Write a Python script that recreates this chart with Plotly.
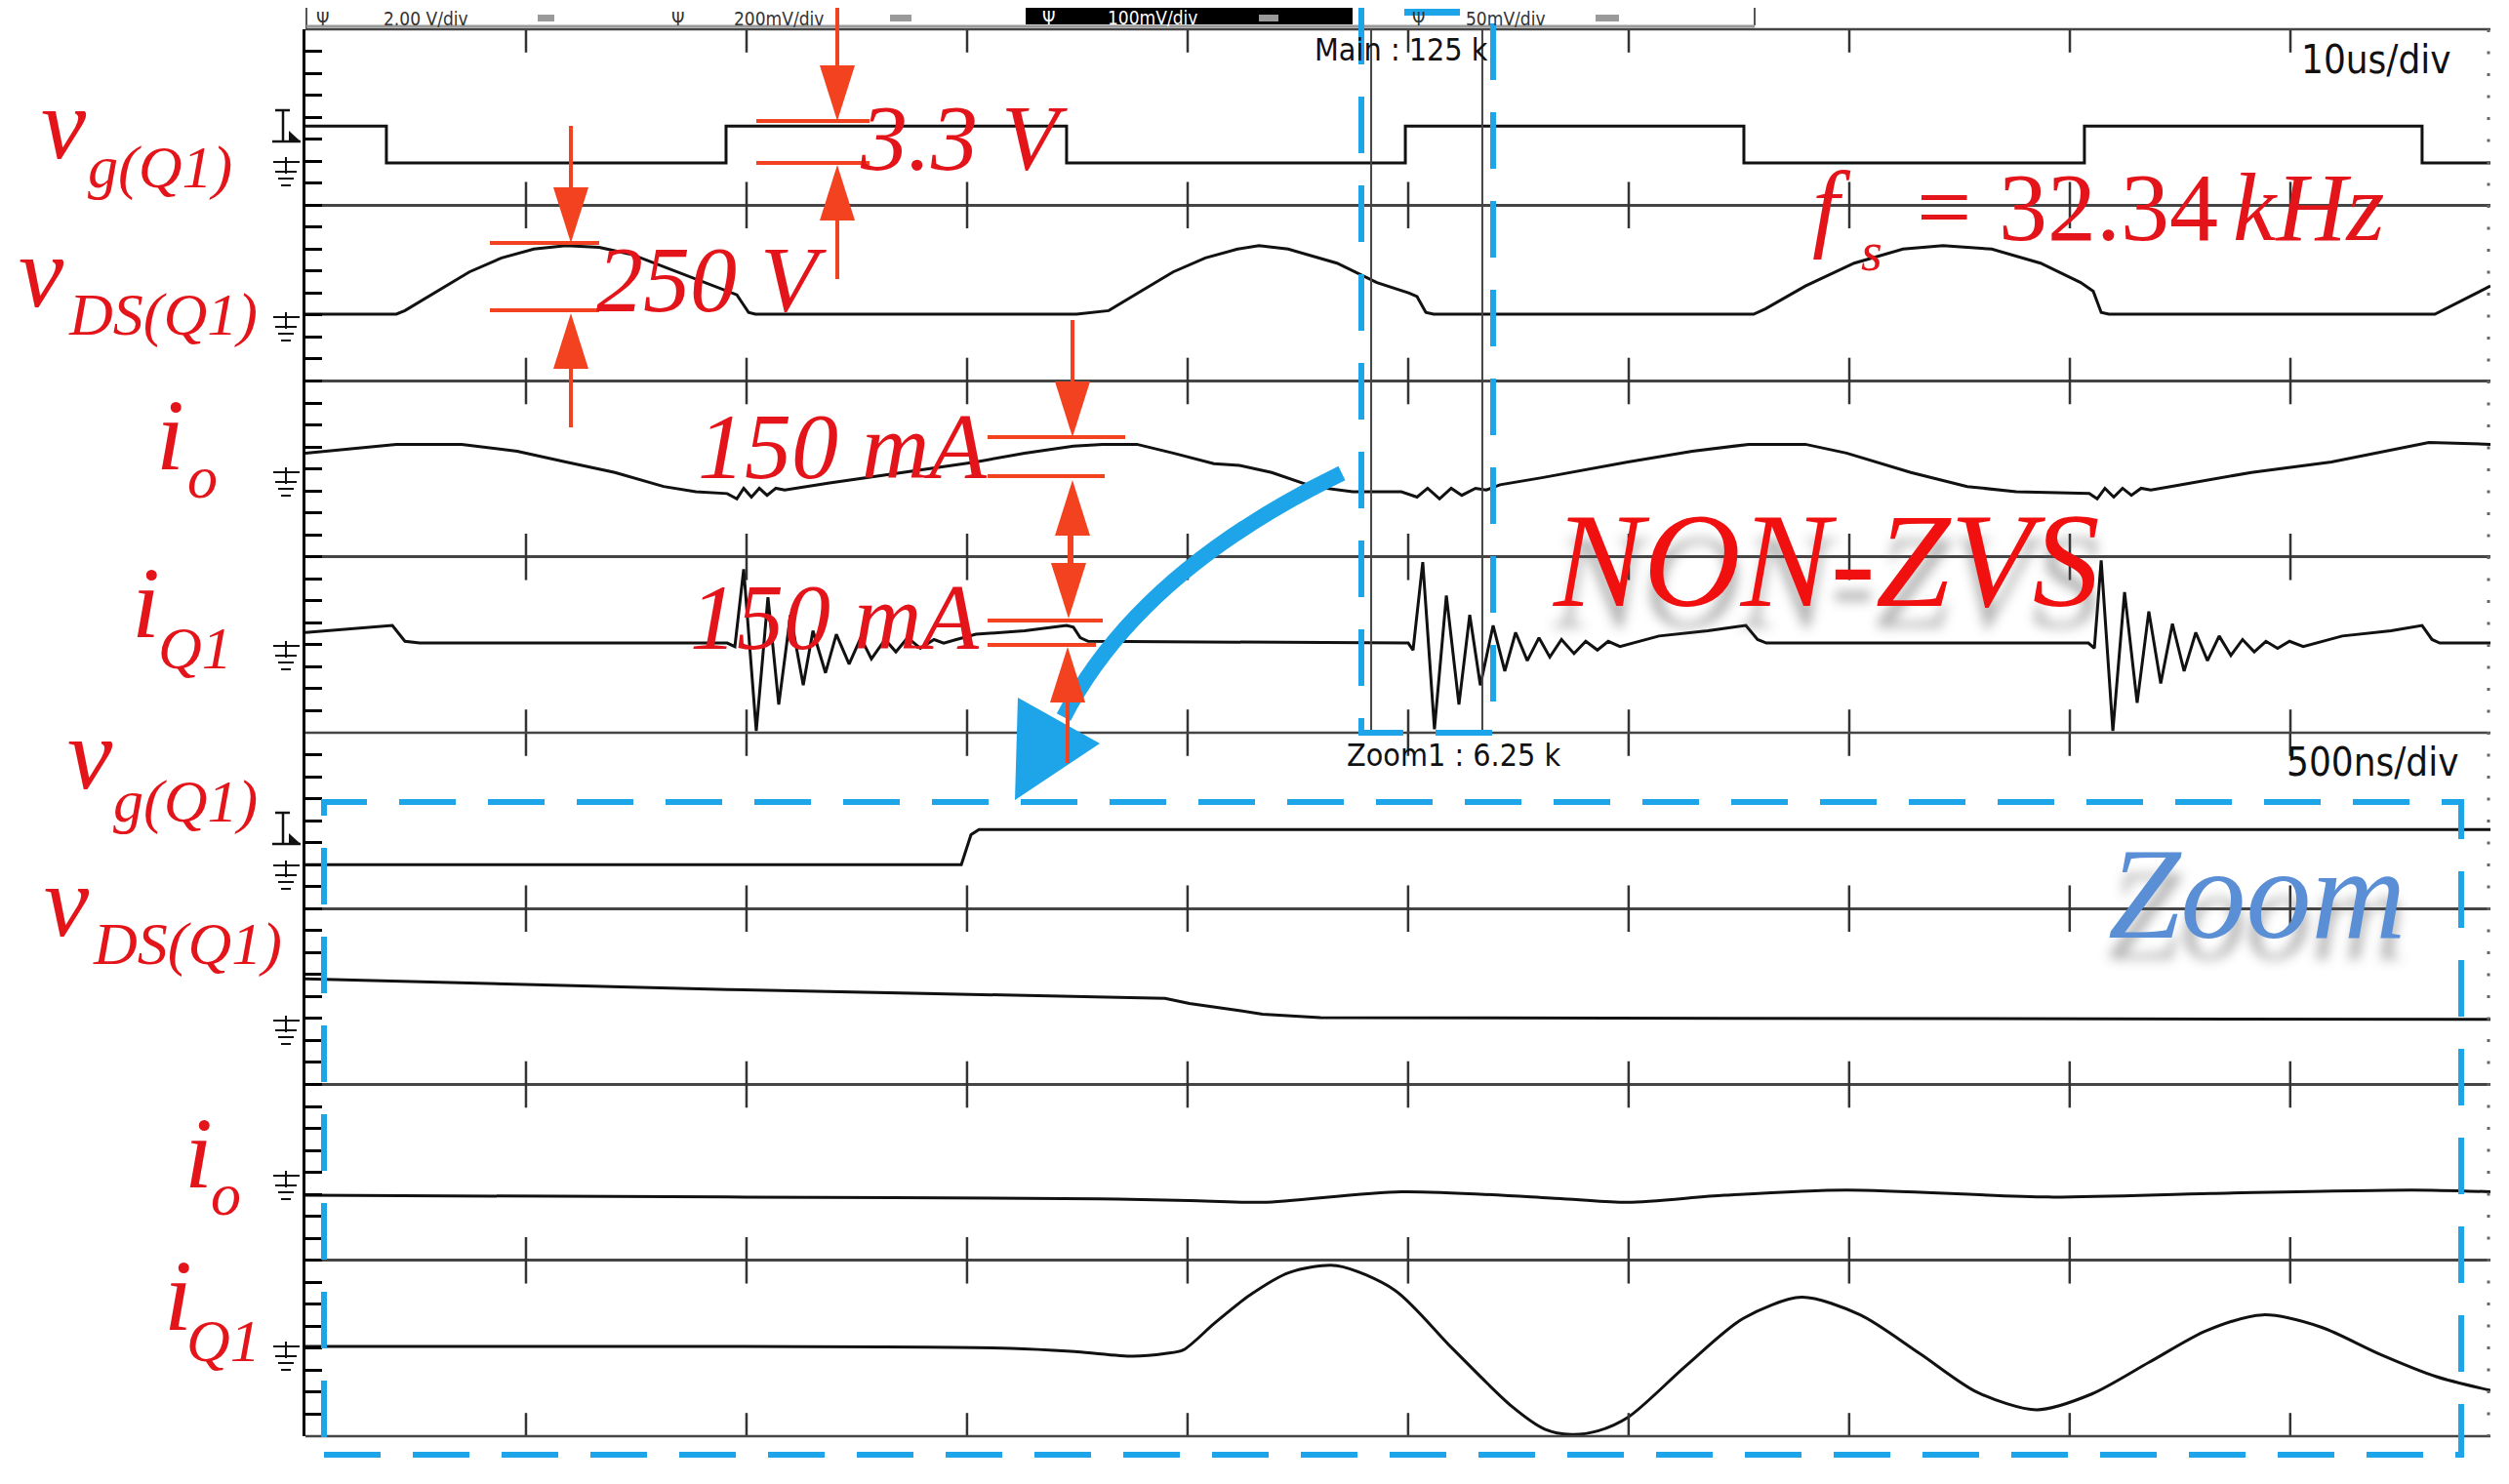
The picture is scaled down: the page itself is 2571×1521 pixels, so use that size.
import plotly.graph_objects as go

# ---------------- data ----------------
# main window: time in us (10 us/div), level in screen divisions (0..4 per half)
t_vg = [0, 3.67, 3.67, 19.07, 19.07, 34.51, 34.51, 49.87, 49.87, 65.22, 65.22, 80.66, 80.66, 95.97, 95.97, 99.07]
vg = [3.45, 3.45, 3.24, 3.24, 3.45, 3.45, 3.24, 3.24, 3.45, 3.45, 3.24, 3.24, 3.45, 3.45, 3.24, 3.24]

t_vds = [0, 4.12, 4.51, 5.97, 7.43, 8.89, 10.35, 11.81, 13.32, 14.78, 16.24, 17.70, 19.16, 19.56, 20.09, 20.40,
         34.96, 36.42, 37.88, 39.34, 40.80, 42.26, 43.23, 44.56, 46.77, 48.58, 50.04, 50.40, 50.80, 51.15,
         65.66, 66.19, 68.01, 70.22, 72.43, 74.25, 76.46, 78.67, 80.49, 81.06, 81.42, 81.77, 96.55, 99.07]
vds = [2.38, 2.38, 2.40, 2.51, 2.62, 2.70, 2.75, 2.77, 2.76, 2.72, 2.65, 2.58, 2.51, 2.49, 2.39, 2.38,
       2.38, 2.40, 2.51, 2.62, 2.70, 2.75, 2.77, 2.75, 2.67, 2.56, 2.50, 2.48, 2.39, 2.38,
       2.38, 2.41, 2.54, 2.67, 2.75, 2.77, 2.75, 2.67, 2.56, 2.51, 2.39, 2.38, 2.38, 2.54]

t_io = [0, 1.64, 4.12, 7.08, 9.60, 11.81, 14.03, 16.24, 17.70, 19.12, 19.56, 19.87, 20.22, 20.58, 20.93, 21.33,
        21.73, 23.76, 25.97, 28.19, 30.40, 32.61, 34.82, 36.15, 37.70, 39.34, 41.19, 42.35, 43.81, 45.66,
        47.48, 49.69, 50.40, 50.88, 51.42, 51.95, 52.43, 53.05, 53.54, 54.16, 56.06, 59.96, 62.88, 65.44,
        68.01, 69.87, 72.79, 75.35, 77.57, 80.88, 81.24, 81.59, 81.99, 82.39, 82.79, 83.23, 83.67, 84.56,
        88.23, 91.86, 95.53, 96.28, 99.07]
io = [1.59, 1.61, 1.64, 1.64, 1.60, 1.54, 1.48, 1.40, 1.37, 1.36, 1.33, 1.39, 1.34, 1.39, 1.35, 1.39,
      1.38, 1.42, 1.46, 1.50, 1.54, 1.59, 1.63, 1.64, 1.64, 1.59, 1.53, 1.52, 1.48, 1.40,
      1.37, 1.37, 1.34, 1.39, 1.33, 1.39, 1.35, 1.39, 1.38, 1.41, 1.45, 1.54, 1.60, 1.64,
      1.64, 1.59, 1.48, 1.40, 1.37, 1.36, 1.33, 1.39, 1.34, 1.39, 1.35, 1.39, 1.38, 1.40,
      1.48, 1.54, 1.63, 1.65, 1.64]

t_iq = [0, 3.94, 4.51, 5.18, 19.12, 19.47, 19.87, 20.44, 20.97, 21.46, 21.99, 22.57, 23.01, 23.58, 24.07,
        24.65, 25.18, 25.66, 26.28, 26.77, 27.30, 27.88, 28.50, 28.94, 29.51, 30.40, 32.61, 34.51, 34.82,
        35.13, 35.49, 50.00, 50.22, 50.66, 51.19, 51.73, 52.30, 52.79, 53.27, 53.85, 54.38, 54.87, 55.40,
        55.93, 56.42, 56.95, 57.52, 58.05, 58.58, 59.07, 59.60, 61.37, 63.58, 65.31, 65.84, 66.24, 80.84,
        81.11, 81.42, 81.95, 82.48, 83.05, 83.58, 84.12, 84.65, 85.18, 85.71, 86.24, 86.77, 87.30, 87.83,
        88.36, 88.89, 89.42, 89.96, 90.58, 92.35, 94.56, 95.97, 96.42, 96.77, 99.07]
iq = [0.57, 0.61, 0.52, 0.51, 0.51, 0.49, 0.93, 0.01, 0.77, 0.16, 0.67, 0.27, 0.58, 0.34, 0.56,
      0.39, 0.54, 0.42, 0.53, 0.46, 0.54, 0.48, 0.53, 0.51, 0.53, 0.56, 0.58, 0.61, 0.60,
      0.54, 0.52, 0.51, 0.47, 0.97, 0.02, 0.78, 0.16, 0.67, 0.27, 0.61, 0.35, 0.57, 0.41,
      0.54, 0.43, 0.53, 0.45, 0.52, 0.47, 0.52, 0.49, 0.55, 0.58, 0.61, 0.53, 0.51, 0.51,
      0.48, 0.98, 0.01, 0.80, 0.17, 0.69, 0.28, 0.62, 0.35, 0.57, 0.41, 0.55, 0.44, 0.53,
      0.46, 0.52, 0.48, 0.52, 0.49, 0.55, 0.58, 0.61, 0.53, 0.51, 0.51]

# zoom window: time in ns (500 ns/div)
t_vg_z = [0, 1487, 1509, 1527, 4954]
vg_z = [3.25, 3.25, 3.42, 3.45, 3.45]

t_vds_z = [0, 958, 1949, 2004, 2117, 2170, 2301, 4954]
vds_z = [2.60, 2.54, 2.49, 2.46, 2.42, 2.40, 2.38, 2.37]

t_io_z = [0, 958, 1800, 2004, 2170, 2485, 2852, 2998, 3217, 3493, 3951, 4319, 4777, 4954]
io_z = [1.37, 1.36, 1.35, 1.34, 1.33, 1.39, 1.35, 1.33, 1.37, 1.40, 1.36, 1.38, 1.40, 1.39]

t_iq_z = [0, 1600, 1750, 1876, 1950, 1990, 2060, 2140, 2230, 2338, 2470, 2600, 2735, 2810, 2870, 2930,
          3000, 3130, 3260, 3392, 3525, 3660, 3790, 3925, 4050, 4180, 4310, 4438, 4570, 4700, 4830, 4954]
iq_z = [0.51, 0.50, 0.48, 0.455, 0.47, 0.49, 0.64, 0.80, 0.93, 0.97, 0.83, 0.50, 0.17, 0.04, 0.01, 0.03,
        0.11, 0.40, 0.67, 0.79, 0.69, 0.47, 0.25, 0.15, 0.24, 0.42, 0.60, 0.69, 0.62, 0.47, 0.34, 0.26]

main_window = [48.32, 53.36]   # zoom window markers, us

# ---------------- figure geometry (screen pixels) ----------------
FW, FH = 2571, 1521
BODY = 8                       # default page margin around the plot div
L, R, T, B = 313, 2552, 30, 1472

def px(x):
    return (x - L) / (R - L)

def py(y):
    return (B - y) / (B - T)

def seg(x0, y0, x1, y1, color, width, dash=None):
    return dict(type='line', xref='paper', yref='paper', x0=px(x0), y0=py(y0), x1=px(x1), y1=py(y1),
                line=dict(color=color, width=width, dash=dash))

def poly(points, color):
    path = 'M ' + ' L '.join(f'{px(x):.5f},{py(y):.5f}' for x, y in points) + ' Z'
    return dict(type='path', xref='paper', yref='paper', path=path, fillcolor=color, line=dict(width=0))

def txt(text, x, y, size, color, family, style='normal', xanchor='left', **kw):
    return dict(text=text, x=px(x), y=py(y), xref='paper', yref='paper', xanchor=xanchor, yanchor='middle',
                showarrow=False, font=dict(size=size, color=color, family=family, style=style), **kw)

SERIF = 'Liberation Serif, DejaVu Serif, serif'
SCOPE = 'Liberation Sans Narrow, DejaVu Sans Condensed, Roboto Condensed, Liberation Sans, sans-serif'
RED = '#e3151a'
ARROW = '#f3421f'
BLUE = '#1ea5e9'
GRID = '#454545'
TRACE = '#111111'

fig = go.Figure()

line_kw = dict(mode='lines', hoverinfo='skip', showlegend=False)
for tx, yy in [(t_vg, vg), (t_vds, vds), (t_io, io), (t_iq, iq)]:
    fig.add_trace(go.Scatter(x=tx, y=yy, line=dict(color=TRACE, width=3), xaxis='x', yaxis='y', **line_kw))
for tx, yy, shp in [(t_vg_z, vg_z, 'linear'), (t_vds_z, vds_z, 'linear'),
                    (t_io_z, io_z, 'spline'), (t_iq_z, iq_z, 'spline')]:
    fig.add_trace(go.Scatter(x=tx, y=yy, line=dict(color=TRACE, width=3, shape=shp, smoothing=0.8),
                             xaxis='x2', yaxis='y2', **line_kw))

# division tick crosses on every horizontal graticule line
for xa, ya, step in [('x', 'y', 10), ('x2', 'y2', 500)]:
    xs = [step * k for k in range(1, 10) for _ in range(5)]
    ys = [j for _ in range(1, 10) for j in range(5)]
    fig.add_trace(go.Scatter(x=xs, y=ys, mode='markers', xaxis=xa, yaxis=ya, hoverinfo='skip', showlegend=False,
                             cliponaxis=True,
                             marker=dict(symbol='line-ns', size=34, line=dict(color='#333', width=2.5))))

yax = dict(range=[0, 4], showgrid=True, gridcolor=GRID, gridwidth=2.5, dtick=1, tick0=0,
           ticks='inside', ticklen=17, tickwidth=3, tickcolor='black',
           minor=dict(ticks='inside', dtick=0.125, ticklen=17, tickwidth=3, tickcolor='black', showgrid=False),
           showline=True, linewidth=3, linecolor='black', showticklabels=False, zeroline=False, fixedrange=True)
xax = dict(showgrid=False, zeroline=False, showticklabels=False, ticks='', showline=False, fixedrange=True)

shapes = []
for yy in (T, 751, B):
    shapes.append(seg(L, yy, R, yy, GRID, 2.5))
shapes.append(seg(2550, T, 2550, B, '#666', 3, dash='3px,19.5px'))
for xw in main_window:
    shapes.append(dict(type='line', xref='x', yref='y', x0=xw, x1=xw, y0=0, y1=4, line=dict(color='#444', width=2)))

# header strip of the scope
shapes.append(seg(314, 8, 314, 29, '#555', 2))
shapes.append(seg(1798, 8, 1798, 26, '#555', 2))
shapes.append(seg(314, 27, 1798, 27, '#999', 3))
shapes.append(dict(type='rect', xref='paper', yref='paper', x0=px(1051), x1=px(1386), y0=py(25), y1=py(8),
                   fillcolor='black', line=dict(width=0)))
for a, b in [(551, 568), (912, 934), (1290, 1310), (1635, 1659)]:
    shapes.append(dict(type='rect', xref='paper', yref='paper', x0=px(a), x1=px(b), y0=py(22), y1=py(15),
                       fillcolor='#9a9a9a', line=dict(width=0)))
shapes.append(dict(type='rect', xref='paper', yref='paper', x0=px(1439), x1=px(1496), y0=py(16), y1=py(9),
                   fillcolor=BLUE, line=dict(width=0)))

# ground markers and trigger markers on the left edge
for g in (166, 325, 484, 662, 887, 1046, 1205, 1380):
    shapes.append(seg(280, g, 307, g, '#111', 2))
    shapes.append(seg(293, g - 5, 293, g + 12, '#111', 2))
    shapes.append(seg(282, g + 10, 304, g + 10, '#111', 2))
    shapes.append(seg(285, g + 17, 301, g + 17, '#111', 2))
    shapes.append(seg(288, g + 24, 298, g + 24, '#111', 2))
for t0 in (113, 833):
    shapes.append(seg(282, t0, 297, t0, '#111', 2.5))
    shapes.append(seg(290, t0, 290, t0 + 32, '#111', 2.5))
    shapes.append(seg(279, t0 + 32, 308, t0 + 32, '#111', 2.5))
    shapes.append(poly([(296, t0 + 21), (308, t0 + 32), (296, t0 + 32)], '#111'))

# blue dashed boxes
DASH = '58px,33px'
shapes.append(dict(type='rect', xref='paper', yref='paper', x0=px(332), x1=px(2522), y0=py(1491), y1=py(822),
                   line=dict(color=BLUE, width=6, dash=DASH)))
box_path = (f'M {px(1395):.5f},{py(8):.5f} L {px(1395):.5f},{py(751):.5f} '
            f'L {px(1530):.5f},{py(751):.5f} L {px(1530):.5f},{py(8):.5f}')
shapes.append(dict(type='path', xref='paper', yref='paper', path=box_path, line=dict(color=BLUE, width=6, dash=DASH)))

# blue curved arrow
curve = (f'M {px(1375):.5f},{py(485):.5f} Q {px(1167):.5f},{py(586):.5f} {px(1090):.5f},{py(735):.5f}')
shapes.append(dict(type='path', xref='paper', yref='paper', path=curve, line=dict(color=BLUE, width=16)))
shapes.append(poly([(1043, 715), (1127, 762), (1040, 820)], BLUE))

# red dimension arrows
def down_head(x, tip):
    return poly([(x - 18, tip - 57), (x + 18, tip - 57), (x, tip)], ARROW)

def up_head(x, tip):
    return poly([(x - 18, tip + 57), (x + 18, tip + 57), (x, tip)], ARROW)

shapes += [seg(858, 6, 858, 70, ARROW, 4), down_head(858, 124),
           seg(775, 124, 891, 124, ARROW, 4), seg(775, 167, 891, 167, ARROW, 4),
           up_head(858, 169), seg(858, 222, 858, 286, ARROW, 4)]
shapes += [seg(585, 129, 585, 195, ARROW, 4), down_head(585, 249),
           seg(502, 249, 614, 249, ARROW, 4), seg(502, 318, 614, 318, ARROW, 4),
           up_head(585, 321), seg(585, 375, 585, 438, ARROW, 4)]
shapes += [seg(1099, 328, 1099, 395, ARROW, 4), down_head(1099, 448),
           seg(1012, 448, 1153, 448, ARROW, 4), seg(1012, 488, 1132, 488, ARROW, 4),
           up_head(1099, 492), seg(1097, 545, 1097, 580, ARROW, 6), down_head(1095, 634),
           seg(1012, 636, 1130, 636, ARROW, 4), seg(1012, 661, 1123, 661, ARROW, 4),
           up_head(1094, 663), seg(1094, 716, 1094, 782, ARROW, 4)]

# ---------------- text ----------------
ann = []
for main, sub, mx, mb, sx, sb in [
        ('v', 'g(Q1)', 40, 162, 88, 193), ('v', 'DS(Q1)', 17, 313, 68, 343),
        ('i', 'o', 158, 480, 190, 510), ('i', 'Q1', 133, 652, 160, 685),
        ('v', 'g(Q1)', 67, 807, 114, 842), ('v', 'DS(Q1)', 43, 959, 93, 989),
        ('i', 'o', 187, 1216, 214, 1245), ('i', 'Q1', 166, 1362, 189, 1395)]:
    ann.append(txt(main, mx, mb - 35, 104, RED, SERIF, style='italic'))
    ann.append(txt(sub, sx, sb - 21, 62, RED, SERIF, style='italic'))

ann += [
    txt('3.3 V', 879, 142, 96, RED, SERIF, style='italic'),
    txt('250 V', 609, 286, 96, RED, SERIF, style='italic'),
    txt('150 mA', 713, 458, 96, RED, SERIF, style='italic'),
    txt('150 mA', 705, 632, 96, RED, SERIF, style='italic'),
    txt('f', 1855, 211, 100, RED, SERIF, style='italic'),
    txt('s', 1905, 258, 56, RED, SERIF, style='italic'),
    txt('=', 1962, 212, 100, RED, SERIF),
    txt('32.34', 2046, 212, 100, RED, SERIF),
    txt('kHz', 2286, 212, 100, RED, SERIF, style='italic'),
]
nz = txt('NON-ZVS', 1588, 574, 138, '#f01010', SERIF, style='italic')
nz['font']['shadow'] = '0px 22px 12px rgba(90,90,90,0.45)'
zm = txt('Zoom', 2158, 916, 134, '#5a8fd6', SERIF, style='italic')
zm['font']['shadow'] = '0px 22px 12px rgba(90,90,90,0.45)'
ann += [nz, zm]

ann += [
    txt('Main : 125 k', 1345, 51, 32, '#111', SCOPE),
    txt('10us/div', 2514, 61, 40, '#111', SCOPE, xanchor='right'),
    txt('Zoom1 : 6.25 k', 1378, 774, 32, '#111', SCOPE),
    txt('500ns/div', 2522, 781, 40, '#111', SCOPE, xanchor='right'),
    txt('Ψ', 322, 19, 19, '#333', SCOPE),
    txt('2.00 V/div', 391, 19, 19, '#333', SCOPE),
    txt('Ψ', 686, 19, 19, '#333', SCOPE),
    txt('200mV/div', 750, 19, 19, '#333', SCOPE),
    txt('Ψ', 1066, 18, 19, 'white', SCOPE),
    txt('100mV/div', 1133, 18, 19, 'white', SCOPE),
    txt('Ψ', 1445, 19, 19, '#333', SCOPE),
    txt('50mV/div', 1500, 19, 19, '#333', SCOPE),
]

fig.update_layout(
    width=FW, height=FH,
    margin=dict(l=L - BODY, r=FW - (R - BODY), t=T - BODY, b=FH - (B - BODY), pad=0),
    paper_bgcolor='white', plot_bgcolor='white', showlegend=False,
    xaxis=dict(domain=[0, 1], range=[0, 99.07], anchor='y', **xax),
    yaxis=dict(domain=[0.5, 1], anchor='x', **yax),
    xaxis2=dict(domain=[0, 1], range=[0, 4954], anchor='y2', **xax),
    yaxis2=dict(domain=[0, 0.5], anchor='x2', **yax),
    shapes=shapes,
    annotations=ann,
)

fig.write_html('out.html')
